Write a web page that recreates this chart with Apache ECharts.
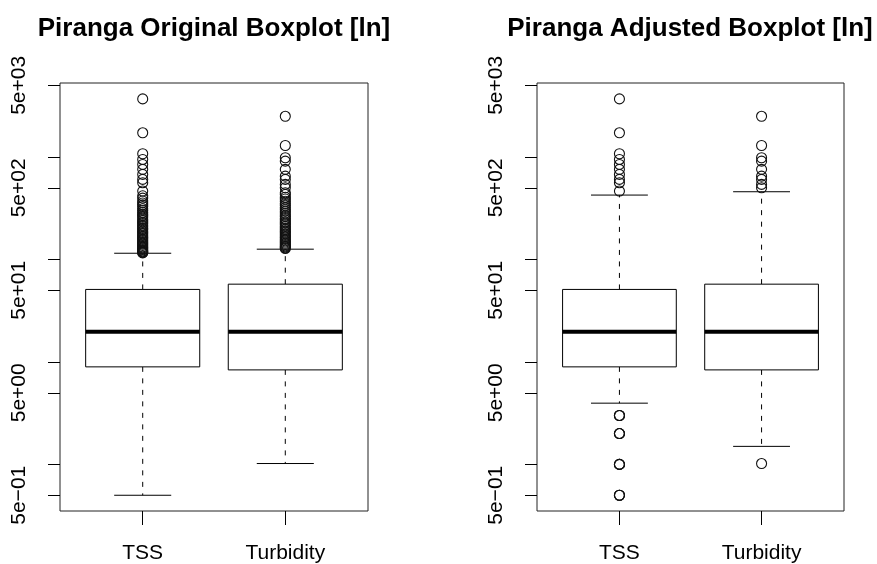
<!DOCTYPE html>
<html>
<head>
<meta charset="utf-8">
<script src="https://cdn.jsdelivr.net/npm/echarts@6/dist/echarts.min.js"></script>
<style>
html,body{margin:0;padding:0;background:#fff;}
#chart{width:877px;height:564px;}
</style>
</head>
<body>
<div id="chart"></div>
<script>
// ---------- data (raw values) ----------
const categories = ['TSS', 'Turbidity'];
const panelTitles = ['Piranga Original Boxplot [ln]', 'Piranga Adjusted Boxplot [ln]'];

// box stats: [lower whisker, Q1, median, Q3, upper whisker]
const tssOriginalBox = [0.5, 8.95, 19.7, 51.0, 115];
const turbOriginalBox = [1.02, 8.36, 19.7, 57.4, 126];
const tssAdjustedBox = [3.96, 8.95, 19.7, 51.0, 425];
const turbAdjustedBox = [1.50, 8.36, 19.7, 57.4, 458];

const tssOutliersOriginal = [3690, 1722, 1075, 946, 846, 757, 676, 604, 561, 465,
  418, 397, 372, 356, 341, 329, 312, 300, 287, 276, 268, 259, 247, 239, 231, 224,
  216, 209, 201, 196, 189, 183, 178, 172, 167, 163, 158, 153, 149, 145, 141, 137,
  133, 130, 127, 124, 121, 119, 117, 116];
const turbOutliersOriginal = [2496, 1294, 983, 911, 757, 650, 604, 540, 501,
  448, 431, 405, 389, 370, 352, 338, 322, 309, 296, 284, 271, 262, 251, 243, 233,
  226, 218, 210, 203, 196, 190, 184, 178, 172, 167, 162, 157, 152, 148, 144, 140,
  136, 133, 130, 128];
const tssOutliersAdjusted = [3690, 1722, 1075, 946, 846, 757, 676, 604, 561, 465,
  3, 3, 3, 2, 2, 2, 1, 1, 1, 0.5, 0.5, 0.5];
const turbOutliersAdjusted = [2496, 1294, 983, 911, 757, 650, 604, 540, 501, 1.02];

const yTickValues = [0.5, 1, 5, 10, 50, 100, 500, 1000, 5000];
const yLabelValues = [0.5, 5, 50, 500, 5000];
const yRange = [0.351, 5272];   // axis limits (raw units)

// ---------- helpers ----------
const L = v => Math.log10(v);
function fmtExp(logv) {
  const v = Math.pow(10, logv);
  const s = v.toExponential(0);           // e.g. "5e+2"
  const m = s.match(/^(\d)e([+-])(\d+)$/);
  if (!m) return s;
  const exp = m[3].padStart(2, '0');
  return m[1] + 'e' + (m[2] === '-' ? '\u2212' : '+') + exp;
}
const FONT = 'Liberation Sans, Arial, sans-serif';

function renderBox(params, api) {
  const x = api.value(0);
  const lw = api.value(1), q1 = api.value(2), med = api.value(3), q3 = api.value(4), uw = api.value(5);
  const halfBox = api.size([0.4, 0])[0];
  const halfCap = api.size([0.2, 0])[0];
  const pLw = api.coord([x, lw]);
  const pQ1 = api.coord([x, q1]);
  const pMed = api.coord([x, med]);
  const pQ3 = api.coord([x, q3]);
  const pUw = api.coord([x, uw]);
  const cx = pMed[0];
  const solid = { stroke: '#000', lineWidth: 1, fill: null };
  const dashed = { stroke: '#000', lineWidth: 1, lineDash: [5, 6.5], fill: null };
  return {
    type: 'group',
    children: [
      { type: 'line', shape: { x1: cx, y1: pQ3[1], x2: cx, y2: pUw[1] }, style: dashed },
      { type: 'line', shape: { x1: cx, y1: pQ1[1], x2: cx, y2: pLw[1] }, style: dashed },
      { type: 'line', shape: { x1: cx - halfCap, y1: pUw[1], x2: cx + halfCap, y2: pUw[1] }, style: solid },
      { type: 'line', shape: { x1: cx - halfCap, y1: pLw[1], x2: cx + halfCap, y2: pLw[1] }, style: solid },
      { type: 'rect', shape: { x: cx - halfBox, y: pQ3[1], width: 2 * halfBox, height: pQ1[1] - pQ3[1] },
        style: { stroke: '#000', lineWidth: 1, fill: '#fff' } },
      { type: 'line', shape: { x1: cx - halfBox, y1: pMed[1], x2: cx + halfBox, y2: pMed[1] },
        style: { stroke: '#000', lineWidth: 4 } }
    ]
  };
}

const grids = [
  { left: 60, top: 83, width: 308, height: 429 },
  { left: 537, top: 83, width: 307, height: 429 }
];
const centers = [214, 690];

const boxes = [[tssOriginalBox, turbOriginalBox], [tssAdjustedBox, turbAdjustedBox]];
const outliers = [[tssOutliersOriginal, turbOutliersOriginal], [tssOutliersAdjusted, turbOutliersAdjusted]];

const option = {
  animation: false,
  backgroundColor: '#fff',
  title: panelTitles.map((t, i) => ({
    text: t, left: centers[i], top: 16, textAlign: 'center', padding: 0,
    textStyle: { fontFamily: FONT, fontWeight: 'bold', fontSize: 26, color: '#000' }
  })),
  grid: grids.map(g => Object.assign({ show: true, borderColor: '#222', borderWidth: 1, backgroundColor: 'transparent', containLabel: false }, g)),
  xAxis: grids.map((g, i) => ({
    type: 'value', gridIndex: i, min: 0.42, max: 2.58, position: 'bottom',
    axisLine: { show: false, onZero: false }, splitLine: { show: false },
    axisTick: { show: true, customValues: [1, 2], length: 14, lineStyle: { color: '#000', width: 1 } },
    axisLabel: { show: true, customValues: [1, 2], margin: 32, color: '#000', fontFamily: FONT, fontSize: 21,
      formatter: v => categories[Math.round(v) - 1] }
  })),
  yAxis: grids.map((g, i) => ({
    type: 'value', gridIndex: i, min: L(yRange[0]), max: L(yRange[1]), position: 'left',
    axisLine: { show: false, onZero: false }, splitLine: { show: false },
    axisTick: { show: true, customValues: yTickValues.map(L), length: 12, lineStyle: { color: '#000', width: 1 } },
    axisLabel: { show: true, customValues: yLabelValues.map(L), rotate: 90, margin: 30, color: '#000',
      fontFamily: FONT, fontSize: 21, formatter: v => fmtExp(v) }
  })),
  series: []
};

for (let i = 0; i < 2; i++) {
  option.series.push({
    type: 'custom', xAxisIndex: i, yAxisIndex: i,
    renderItem: renderBox,
    encode: { x: 0, y: [1, 2, 3, 4, 5] },
    data: boxes[i].map((b, j) => [j + 1].concat(b.map(L))),
    z: 2
  });
  for (let j = 0; j < 2; j++) {
    option.series.push({
      type: 'scatter', xAxisIndex: i, yAxisIndex: i,
      symbol: 'circle', symbolSize: 10,
      itemStyle: { color: 'rgba(0,0,0,0)', borderColor: '#111', borderWidth: 1.1, opacity: 1 },
      emphasis: { disabled: true },
      data: outliers[i][j].map(v => [j + 1, L(v)]),
      z: 3
    });
  }
}

const chart = echarts.init(document.getElementById('chart'), null, { renderer: 'canvas' });
chart.setOption(option);
</script>
</body>
</html>
